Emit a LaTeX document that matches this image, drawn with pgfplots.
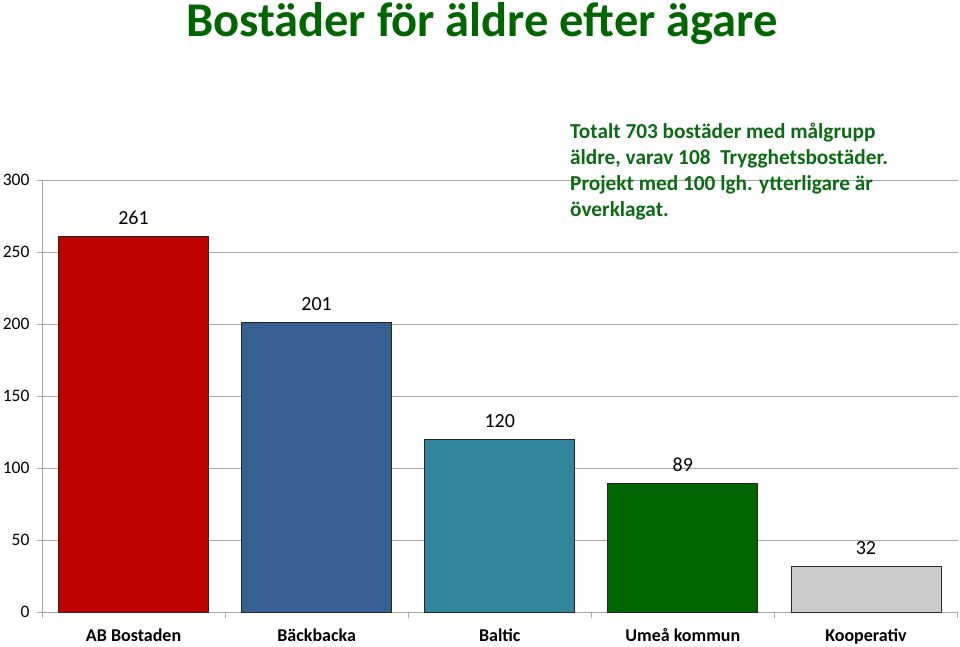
\documentclass[border=0pt]{standalone}
\usepackage{fontspec}
\setmainfont{Carlito}
\usepackage{pgfplots}
\pgfplotsset{compat=1.18}
\definecolor{cRed}{HTML}{C00000}
\definecolor{cBlue}{HTML}{376092}
\definecolor{cTeal}{HTML}{31859C}
\definecolor{cGreen}{HTML}{006600}
\definecolor{cGray}{HTML}{CCCCCC}
\definecolor{txtGreen}{HTML}{0B6B12}
\definecolor{axGray}{HTML}{A6A6A6}
\begin{document}
\begin{tikzpicture}
\useasboundingbox (0pt,0pt) rectangle (960pt,-646pt);
\begin{axis}[
    at={(42pt,-612pt)}, anchor=south west,
    scale only axis, width=915.5pt, height=432pt,
    xmin=-0.5, xmax=4.5, ymin=0, ymax=300,
    ytick={0,50,...,300},
    xtick={0,1,2,3,4},
    xticklabels={AB Bostaden, Bäckbacka, Baltic, Umeå kommun, Kooperativ},
    minor xtick={-0.5,0.5,1.5,2.5,3.5,4.5},
    axis lines*=left,
    axis line style={draw=axGray, line width=0.9pt},
    ymajorgrids,
    major grid style={draw=axGray, line width=0.9pt},
    tick align=outside,
    major tick length=5pt,
    minor tick length=6pt,
    tick style={draw=axGray, line width=0.9pt},
    major x tick style={draw=none},
    /pgf/number format/assume math mode=true,
    typeset ticklabels with strut,
    yticklabel style={font=\fontsize{17.5}{19}\selectfont, xshift=-4pt, yshift=-2pt},
    xticklabel style={font=\fontsize{18}{20}\bfseries\selectfont, yshift=-7pt},
    ybar, bar width=150pt,
    nodes near coords,
    every node near coord/.append style={font=\fontsize{20}{24}\selectfont, black, yshift=8pt},
    clip=false,
]
\addplot[bar shift=0pt, fill=cRed, draw=black!85, line width=0.8pt] coordinates {(0,261)};
\addplot[bar shift=0pt, fill=cBlue, draw=black!85, line width=0.8pt] coordinates {(1,201)};
\addplot[bar shift=0pt, fill=cTeal, draw=black!85, line width=0.8pt] coordinates {(2,120)};
\addplot[bar shift=0pt, fill=cGreen, draw=black!85, line width=0.8pt] coordinates {(3,89)};
\addplot[bar shift=0pt, fill=cGray, draw=black!85, line width=0.8pt] coordinates {(4,32)};
\end{axis}
\node[anchor=base, text=cGreen, font=\fontsize{48.5}{52}\bfseries\selectfont] at (482pt,-36pt) {Bostäder för äldre efter ägare};
\begin{scope}[every node/.style={anchor=base west, text=txtGreen, font=\fontsize{21.3}{24}\bfseries\selectfont, inner sep=0pt}]
\node at (570pt,-138pt) {Totalt 703 bostäder med målgrupp};
\node at (570pt,-164pt) {äldre, varav 108\ \ Trygghetsbostäder.};
\node at (570pt,-190pt) {Projekt med 100 lgh. ytterligare är};
\node at (570pt,-216pt) {överklagat.};
\end{scope}
\end{tikzpicture}
\end{document}
